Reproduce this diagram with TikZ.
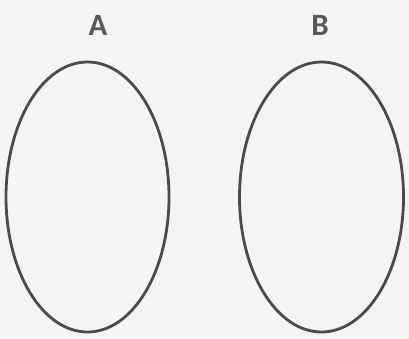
\documentclass[tikz,border=0pt]{standalone}
\usepackage{fontspec}
\setmainfont{Carlito}
\definecolor{paper}{HTML}{F3F4F6}
\definecolor{ink}{HTML}{4A4A4C}
\definecolor{lab}{HTML}{58585A}
\tikzset{
  setoval/.style={draw=ink, line width=2.8pt},
  setlabel/.style={text=lab, font=\fontsize{31}{31}\selectfont\bfseries, inner sep=0pt, anchor=base}
}
\begin{document}
\begin{tikzpicture}[x=1pt,y=-1pt]
\fill[paper] (0,0) rectangle (409,339);
\useasboundingbox (0,0) rectangle (409,339);
\draw[setoval] (87.5,197) ellipse [x radius=81.5, y radius=135];
\draw[setoval] (321.5,197) ellipse [x radius=82, y radius=135];
\node[setlabel] (A) at (98,35.5) {A};
\node[setlabel] (B) at (320,35.5) {B};
\end{tikzpicture}
\end{document}
